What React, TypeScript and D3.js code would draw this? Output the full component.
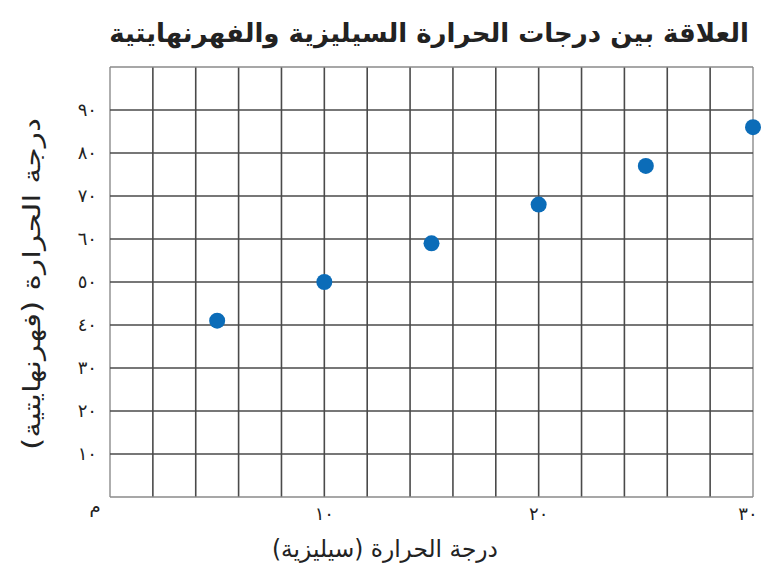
import React from "react";
import * as d3 from "d3";

const celsius = [5, 10, 15, 20, 25, 30];
const fahrenheit = [41, 50, 59, 68, 77, 86];
const xTicks = [10, 20, 30];
const yTicks = [10, 20, 30, 40, 50, 60, 70, 80, 90];
const toArabic = (n: number) => String(n).replace(/\d/g, (d) => "٠١٢٣٤٥٦٧٨٩"[+d]);

const W = 766, H = 578;
const title = "العلاقة بين درجات الحرارة السيليزية والفهرنهايتية";
const xLabel = "درجة الحرارة (سيليزية)";
const yLabel = "درجة الحرارة (فهرنهايتية)";
const originLabel = "م";

export default function App() {
  const x = d3.scaleLinear().domain([0, 30]).range([110, 753]);
  const y = d3.scaleLinear().domain([0, 100]).range([497, 67]);
  const xGrid = d3.range(0, 31, 2);
  const yGrid = d3.range(0, 101, 10);
  const font = "DejaVu Sans, sans-serif";
  return (
    <svg width={W} height={H} style={{ position: "absolute", left: 0, top: 0, background: "#fff" }}>
      <text x={429} y={42} textAnchor="middle" fontFamily={font} fontSize={26} fontWeight="bold" fill="#222">
        {title}
      </text>
      <g>
        {xGrid.map((v) => (
          <line key={"vx" + v} x1={x(v)} x2={x(v)} y1={y(0)} y2={y(100)}
            stroke={v === 0 || v === 30 ? "#9a9a9a" : "#4a4a4a"} strokeWidth={1.6} />
        ))}
        {yGrid.map((v) => (
          <line key={"hy" + v} x1={x(0)} x2={x(30)} y1={y(v)} y2={y(v)}
            stroke={v === 0 || v === 100 ? "#8a8a8a" : "#4a4a4a"} strokeWidth={1.6} />
        ))}
      </g>
      {celsius.map((c, i) => (
        <circle key={i} cx={x(c)} cy={y(fahrenheit[i])} r={8} fill="#0b6cb8" />
      ))}
      {yTicks.map((v) => (
        <text key={"yt" + v} x={97} y={y(v)} dy="0.35em" textAnchor="end" fontFamily={font} fontSize={18} fill="#222">
          {toArabic(v)}
        </text>
      ))}
      {xTicks.map((v) => (
        <text key={"xt" + v} x={v === 30 ? x(v) - 5 : x(v)} y={520} textAnchor="middle" fontFamily={font} fontSize={18} fill="#222">
          {toArabic(v)}
        </text>
      ))}
      <text x={95} y={513} textAnchor="middle" fontFamily={font} fontSize={18} fill="#222">{originLabel}</text>
      <text x={385} y={557} textAnchor="middle" fontFamily={font} fontSize={24} fill="#222"
        textLength={226} lengthAdjust="spacingAndGlyphs">{xLabel}</text>
      <text transform={`translate(40,284) rotate(-90)`} textAnchor="middle" fontFamily={font} fontSize={24} fill="#222"
        textLength={332} lengthAdjust="spacingAndGlyphs">
        {yLabel}
      </text>
    </svg>
  );
}
